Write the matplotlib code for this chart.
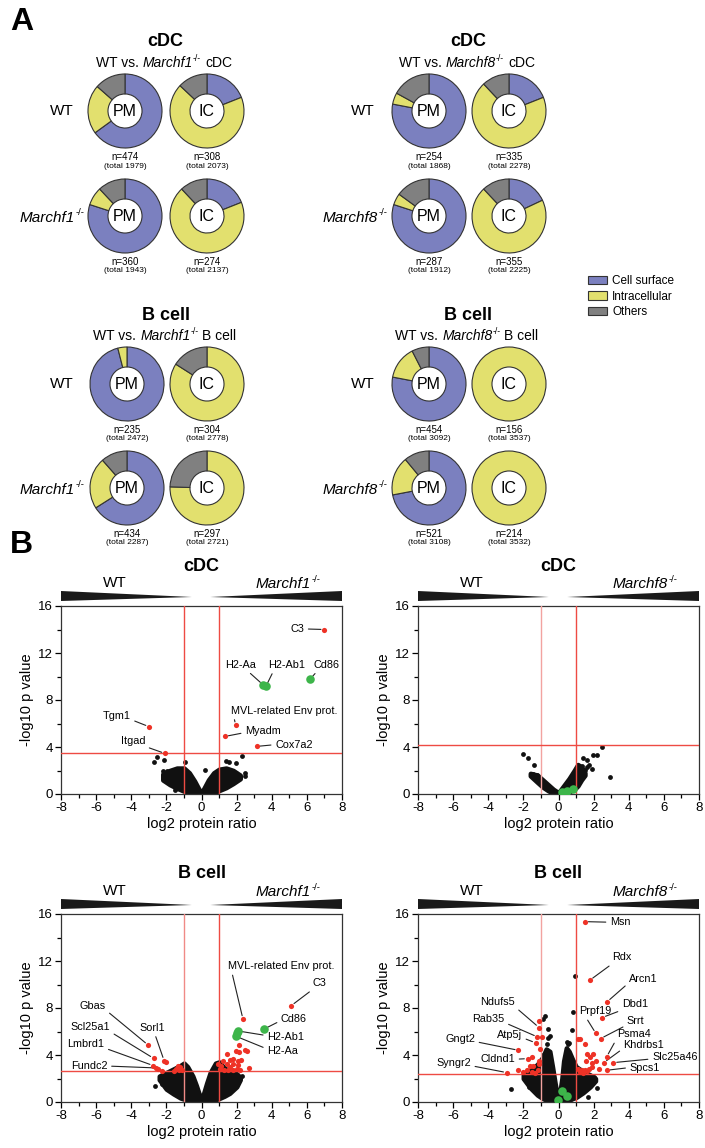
import matplotlib
matplotlib.use('Agg')
import matplotlib.pyplot as plt
from matplotlib.patches import Patch
from matplotlib.ticker import MultipleLocator

plt.rcParams['font.family'] = ['Liberation Sans', 'DejaVu Sans']
plt.rcParams['axes.unicode_minus'] = False

W, H = 705, 1148

# ---------------- data: panel A (donuts) ----------------
loc_names = ['Cell surface', 'Intracellular', 'Others']
loc_colors = ['#7b80bf', '#e2e06e', '#808080']

# fractions [surface, intracellular, others]: WT PM, WT IC, KO PM, KO IC
cdc_m1_frac = [[0.65, 0.215, 0.135], [0.19, 0.68, 0.13], [0.80, 0.08, 0.12], [0.19, 0.69, 0.12]]
cdc_m8_frac = [[0.78, 0.05, 0.17], [0.19, 0.69, 0.12], [0.80, 0.05, 0.15], [0.18, 0.70, 0.12]]
b_m1_frac = [[0.96, 0.04, 0.0], [0.0, 0.84, 0.16], [0.66, 0.225, 0.115], [0.0, 0.755, 0.245]]
b_m8_frac = [[0.78, 0.145, 0.075], [0.0, 1.0, 0.0], [0.72, 0.17, 0.11], [0.0, 1.0, 0.0]]

cdc_m1_n = [(474, 1979), (308, 2073), (360, 1943), (274, 2137)]
cdc_m8_n = [(254, 1868), (335, 2278), (287, 1912), (355, 2225)]
b_m1_n = [(235, 2472), (304, 2778), (434, 2287), (297, 2721)]
b_m8_n = [(454, 3092), (156, 3537), (521, 3108), (214, 3532)]

# ---------------- data: panel B (volcano) ----------------
# cDC, Marchf1
cm1_cloud_x = [-2.2, -1.8, -1.4, -1.0, -0.7, -0.4, -0.15, 0, 0.15, 0.4, 0.7, 1.0, 1.4, 1.8, 2.2]
cm1_cloud_hi = [1.7, 2.0, 2.2, 2.2, 1.8, 1.1, 0.4, 0.1, 0.5, 1.2, 1.8, 2.1, 2.2, 2.0, 1.6]
cm1_cloud_lo = [1.2, 0.8, 0.5, 0.25, 0.12, 0.04, 0.01, 0, 0.01, 0.04, 0.12, 0.3, 0.55, 0.9, 1.3]
cm1_black_x = [-2.56, -2.71, -2.12, -0.95, -1.99, -2.18, -1.52, 0.19, 1.42, 1.55, 1.99, 2.31, 2.46, 2.50, 1.97, 1.67]
cm1_black_y = [3.19, 2.76, 2.93, 2.76, 1.99, 1.99, 0.37, 2.05, 2.85, 2.76, 2.65, 3.27, 1.79, 1.51, 1.79, 1.28]
cm1_red_x = [7.0, 1.95, 1.34, 3.14, -2.99, -2.08]
cm1_red_y = [14.0, 5.85, 4.9, 4.05, 5.73, 3.45]
cm1_green_x = [3.5, 3.68, 6.2]
cm1_green_y = [9.3, 9.2, 9.8]
cm1_cut = 3.45
cm1_genes = [('C3', 7.0, 14.0), ('H2-Aa', 3.5, 9.3), ('H2-Ab1', 3.68, 9.2), ('Cd86', 6.2, 9.8),
             ('MVL-related Env prot.', 1.95, 5.85), ('Myadm', 1.34, 4.9), ('Cox7a2', 3.14, 4.05),
             ('Tgm1', -2.99, 5.73), ('Itgad', -2.08, 3.45)]

# cDC, Marchf8
cm8_cloud_x = [-1.6, -1.2, -0.9, -0.6, -0.3, 0, 0.3, 0.6, 0.9, 1.1, 1.3, 1.5]
cm8_cloud_hi = [1.75, 1.6, 1.2, 0.8, 0.4, 0.1, 0.7, 1.3, 2.0, 2.5, 2.3, 1.8]
cm8_cloud_lo = [1.55, 1.0, 0.6, 0.3, 0.05, 0, 0.05, 0.2, 0.4, 0.7, 1.2, 1.6]
cm8_black_x = [-2.04, -1.75, -1.37, -1.47, -1.24, 1.41, 1.60, 1.73, 1.64, 1.88, 1.94, 2.17, 2.49, 2.93, 1.32, 1.51]
cm8_black_y = [3.37, 3.06, 2.49, 1.70, 1.64, 3.06, 2.89, 2.46, 2.27, 2.12, 3.34, 3.34, 4.02, 1.42, 2.41, 2.04]
cm8_red_x = []
cm8_red_y = []
cm8_green_x = [0.18, 0.50, 0.81]
cm8_green_y = [0.2, 0.23, 0.42]
cm8_cut = 4.19
cm8_genes = []

# B cell, Marchf1
bm1_cloud_x = [-2.4, -2.0, -1.6, -1.2, -1.0, -0.8, -0.5, -0.3, -0.1, 0, 0.1, 0.3, 0.5, 0.8, 1.0, 1.3, 1.6, 2.0, 2.2]
bm1_cloud_hi = [2.2, 2.5, 2.8, 3.1, 3.3, 3.0, 2.2, 1.4, 0.5, 0.1, 0.6, 1.6, 2.5, 3.3, 3.4, 2.9, 2.6, 2.4, 2.1]
bm1_cloud_lo = [1.9, 1.1, 0.7, 0.35, 0.25, 0.15, 0.05, 0.02, 0, 0, 0, 0.02, 0.05, 0.2, 0.3, 0.5, 0.75, 1.3, 1.9]
bm1_black_x = [-2.63, -2.25, 1.82, -2.16, 2.04, -1.85, 2.3]
bm1_black_y = [1.34, 1.56, 1.71, 1.90, 1.71, 1.3, 2.2]
bm1_red_x = [5.11, 2.36, -3.04, -2.73, -2.75, -2.13, -2.6,
             2.12, 1.44, 1.95, 2.16, 2.48, 2.61, 1.63, 1.82, 2.06, 2.23, 0.96, 1.21, 1.44, 1.63, 1.82, 2.10,
             2.72, 1.06, 1.29, 1.53, 1.82, 2.04, 2.19, 1.10,
             -2.0, -2.5, -2.25, -1.59, -1.34, -1.21, -1.30, -1.12, -1.46]
bm1_red_y = [8.2, 7.06, 4.85, 3.72, 3.1, 3.52, 2.9,
             4.83, 4.06, 4.32, 4.29, 4.46, 4.32, 3.61, 3.69, 3.50, 3.61, 3.27, 3.50, 3.27, 2.98, 3.27, 3.13,
             2.93, 2.84, 2.70, 2.70, 2.70, 2.84, 2.70, 3.04,
             3.38, 2.84, 2.61, 2.64, 3.04, 2.98, 2.70, 2.76, 2.84]
bm1_green_x = [3.55, 2.1, 1.95, 2.02]
bm1_green_y = [6.2, 6.04, 5.6, 5.85]
bm1_cut = 2.62
bm1_genes = [('C3', 5.11, 8.2), ('MVL-related Env prot.', 2.36, 7.06), ('Cd86', 3.55, 6.2),
             ('H2-Ab1', 2.1, 6.04), ('H2-Aa', 1.95, 5.6), ('Gbas', -3.04, 4.85),
             ('Scl25a1', -2.73, 3.72), ('Lmbrd1', -2.75, 3.1), ('Sorl1', -2.13, 3.52), ('Fundc2', -2.6, 2.9)]

# B cell, Marchf8
bm8_cloud_x = [-2.0, -1.6, -1.2, -0.9, -0.7, -0.5, -0.35, -0.2, -0.08, 0, 0.08, 0.2, 0.3, 0.45, 0.6, 0.8, 1.0, 1.4, 1.8, 2.1]
bm8_cloud_hi = [2.3, 2.7, 3.2, 3.8, 4.5, 4.3, 3.0, 1.6, 0.6, 0.1, 0.8, 2.0, 3.5, 4.6, 4.3, 3.6, 3.0, 2.6, 2.3, 2.0]
bm8_cloud_lo = [2.0, 1.2, 0.6, 0.3, 0.18, 0.08, 0.03, 0.01, 0, 0, 0, 0.01, 0.03, 0.08, 0.15, 0.3, 0.4, 0.8, 1.3, 1.8]
bm8_black_x = [0.94, 0.80, 0.79, -0.77, -0.86, -0.58, -0.48, -0.61, -0.67, 0.46, 0.56, -2.7, -1.7, 2.2, 1.7, 2.0, -0.9, 0.6]
bm8_black_y = [10.71, 7.62, 6.11, 7.33, 7.1, 6.25, 5.63, 5.46, 4.97, 5.1, 4.97, 1.1, 1.3, 1.2, 0.4, 2.1, 4.0, 5.0]
bm8_red_x = [1.51, 1.79, 2.77, 2.49, 2.13, 2.4, 2.74, 2.58, 3.12, 2.74,
             -1.11, -1.2, -1.3, -2.28, -1.75, -2.94,
             -1.11, -0.96, -1.03, -1.52, -1.13, -1.13, -1.45, -1.62, -2.28, -2.0, -1.81, -1.52, -1.33, -1.15,
             1.09, 1.51, 1.64, 1.98, 1.79, 1.54, 1.88, 2.11, 2.32, 1.13, 1.32, 1.51, 1.75, 1.88, 1.22, 1.41, 1.64, 1.25]
bm8_red_y = [15.35, 10.37, 8.53, 7.19, 5.83, 5.4, 3.84, 3.35, 3.35, 2.7,
             6.34, 5.54, 5.03, 4.4, 3.69, 2.5,
             6.91, 5.54, 4.55, 3.84, 3.50, 3.27, 3.07, 3.04, 2.70, 2.56, 2.70, 2.56, 2.47, 2.70,
             5.40, 4.92, 4.12, 4.06, 3.84, 3.50, 3.35, 3.50, 2.84, 2.84, 2.70, 2.70, 2.84, 2.98, 2.56, 2.47, 2.64, 5.4]
bm8_green_x = [0.22, 0.46, -0.05]
bm8_green_y = [0.94, 0.48, 0.14]
bm8_cut = 2.42
bm8_genes = [('Msn', 1.51, 15.35), ('Rdx', 1.79, 10.37), ('Arcn1', 2.77, 8.53), ('Dbd1', 2.49, 7.19),
             ('Prpf19', 2.13, 5.83), ('Srrt', 2.4, 5.4), ('Psma4', 2.74, 3.84), ('Khdrbs1', 2.58, 3.35),
             ('Slc25a46', 3.12, 3.35), ('Spcs1', 2.74, 2.7), ('Ndufs5', -1.11, 6.34), ('Rab35', -1.2, 5.54),
             ('Atp5j', -1.3, 5.03), ('Gngt2', -2.28, 4.4), ('Cldnd1', -1.75, 3.69), ('Syngr2', -2.94, 2.5)]

# label placement (text x, text y, ha, line start relpos)
cm1_lab = [(5.85, 14.05, 'right', (1, 0.5)), (2.2, 11.0, 'center', (0.7, 0)), (4.87, 11.0, 'center', (0.15, 0)),
           (7.1, 11.0, 'center', (0.2, 0)), (1.7, 7.1, 'left', (0.02, 0)), (2.48, 5.4, 'left', (0, 0.3)),
           (4.19, 4.2, 'left', (0, 0.5)), (-4.83, 6.6, 'center', (1, 0.2)), (-3.9, 4.47, 'center', (1, 0))]
bm1_lab = [(6.73, 10.1, 'center', (0.1, 0)), (1.53, 11.57, 'left', (0.03, 0)), (5.26, 7.1, 'center', (0, 0.3)),
           (3.74, 5.56, 'left', (0, 0.6)), (3.74, 4.34, 'left', (0, 0.7)), (-6.2, 8.17, 'center', (1, 0.1)),
           (-6.33, 6.41, 'center', (1, 0)), (-6.58, 4.94, 'center', (1, 0.1)), (-2.83, 6.33, 'center', (0.6, 0)),
           (-6.39, 3.06, 'center', (1, 0.5))]
bm8_lab = [(2.93, 15.3, 'left', (0, 0.5)), (3.6, 12.3, 'center', (0.1, 0)), (4.83, 10.5, 'center', (0, 0.1)),
           (4.35, 8.33, 'center', (0.1, 0)), (2.07, 7.73, 'center', (0.2, 0)), (4.4, 6.9, 'center', (0, 0.1)),
           (4.29, 5.77, 'center', (0, 0.1)), (4.86, 4.83, 'center', (0, 0.2)), (6.62, 3.84, 'center', (0, 0.3)),
           (4.91, 2.93, 'center', (0, 0.5)), (-3.47, 8.53, 'center', (1, 0)), (-3.99, 7.1, 'center', (1, 0.1)),
           (-2.79, 5.74, 'center', (1, 0.2)), (-5.6, 5.4, 'center', (1, 0.2)), (-3.46, 3.64, 'center', (1, 0.5)),
           (-5.97, 3.35, 'center', (1, 0.2))]


def rect(x0, y0, x1, y1):
    return [x0 / W, 1 - y1 / H, (x1 - x0) / W, (y1 - y0) / H]


def ftext(x, y, s, **kw):
    fig.text(x / W, 1 - y / H, s, **kw)


fig = plt.figure(figsize=(W / 100, H / 100), dpi=100)
renderer = fig.canvas.get_renderer()


def rich(x, y, segs, ha='center', fontsize=11):
    # segs: (text, kind) with kind n = normal, i = italic, s = superscript, g = space
    em = fontsize * 100 / 72
    base = y + 0.36 * em
    items = []
    for s, kind in segs:
        if kind == 'g':
            items.append((None, 0.278 * em, 0))
            continue
        fs = fontsize * 0.62 if kind == 's' else fontsize
        t = fig.text(0, 0, s, fontsize=fs, va='baseline', ha='left',
                     style='italic' if kind == 'i' else 'normal')
        w = t.get_window_extent(renderer).width
        items.append((t, w, 0.42 * em if kind == 's' else 0))
    total = sum(w for _, w, _ in items)
    cur = x - total / 2 if ha == 'center' else (x - total if ha == 'right' else x)
    for t, w, rise in items:
        if t is not None:
            t.set_position((cur / W, 1 - (base - rise) / H))
        cur += w


def ko_segs(gene):
    return [(gene, 'i'), ('-/-', 's')]


def donut(cx, cy, fracs, tag, n, total):
    s = 37 * 1.08
    ax = fig.add_axes(rect(cx - s, cy - s, cx + s, cy + s))
    vals = [f for f in fracs if f > 0]
    cols = [c for f, c in zip(fracs, loc_colors) if f > 0]
    ax.pie(vals, colors=cols, startangle=90, counterclock=False,
           wedgeprops=dict(width=0.54, edgecolor='#333333', linewidth=0.8))
    ax.set_xlim(-1.08, 1.08)
    ax.set_ylim(-1.08, 1.08)
    ax.text(0, -0.02, tag, ha='center', va='center', fontsize=11.5)
    ftext(cx, cy + 46, f'n={n}', ha='center', va='center', fontsize=7)
    ftext(cx, cy + 55, f'(total {total})', ha='center', va='center', fontsize=6)


def donut_group(xs, ys, fracs, counts, title, gene, cell, lab_x, ko_x):
    tx = (xs[0] + xs[1]) / 2 - 2
    ftext(tx + 1, ys[0] - 69, title, ha='center', va='center', fontsize=13, fontweight='bold')
    rich(tx, ys[0] - 49, [('WT vs.', 'n'), (' ', 'g')] + ko_segs(gene) + [(' ', 'g'), (cell, 'n')],
         ha='center', fontsize=10)
    ftext(lab_x, ys[0], 'WT', ha='center', va='center', fontsize=11)
    rich(ko_x, ys[1], ko_segs(gene), ha='right', fontsize=11)
    k = 0
    for cy in ys:
        for cx, tag in zip(xs, ['PM', 'IC']):
            donut(cx, cy, fracs[k], tag, counts[k][0], counts[k][1])
            k += 1


ftext(10, 22, 'A', ha='left', va='center', fontsize=23, fontweight='bold')
donut_group([125, 207], [111, 216], cdc_m1_frac, cdc_m1_n, 'cDC', 'Marchf1', 'cDC', 62, 84)
donut_group([429, 509], [111, 216], cdc_m8_frac, cdc_m8_n, 'cDC', 'Marchf8', 'cDC', 363, 387)
donut_group([127, 207], [384, 488], b_m1_frac, b_m1_n, 'B cell', 'Marchf1', 'B cell', 62, 84)
donut_group([429, 509], [384, 488], b_m8_frac, b_m8_n, 'B cell', 'Marchf8', 'B cell', 363, 387)

handles = [Patch(facecolor=c, edgecolor='#333333', linewidth=0.8, label=n) for n, c in zip(loc_names, loc_colors)]
fig.legend(handles=handles, loc='upper left', bbox_to_anchor=(588 / W, 1 - 275 / H), frameon=False,
           fontsize=8.5, handlelength=1.6, handleheight=0.75, handletextpad=0.45, labelspacing=0.3,
           borderpad=0, borderaxespad=0)

ftext(10, 545, 'B', ha='left', va='center', fontsize=23, fontweight='bold')


def volcano(x0, y0, title, gene, cx, lo, hi, bx, by, rx, ry, gx, gy, cut, genes, lab, left_line):
    x1, y1 = x0 + 281, y0 + 188
    # WT / KO wedge bar
    wax = fig.add_axes(rect(x0, y0 - 15, x1, y0 - 5))
    wax.fill([-8, -0.55, -8], [0, 0.4, 1], color='#1a1a1a', lw=0)
    wax.fill([8, 0.5, 8], [0, 0.4, 1], color='#1a1a1a', lw=0)
    wax.set_xlim(-8, 8)
    wax.set_ylim(0, 1)
    wax.axis('off')
    ftext((x0 + x1) / 2, y0 - 40, title, ha='center', va='center', fontsize=13, fontweight='bold')
    ftext(x0 + 54, y0 - 23, 'WT', ha='center', va='center', fontsize=11)
    rich(x0 + 227, y0 - 23, ko_segs(gene), ha='center', fontsize=11)

    ax = fig.add_axes(rect(x0, y0, x1, y1))
    ax.fill_between(cx, lo, hi, facecolor='#111111', edgecolor='#111111', linewidth=3.4, zorder=2)
    ax.scatter(bx, by, s=12, c='#111111', linewidths=0, zorder=2)
    ax.axvline(-1, color=left_line, lw=1.0, zorder=3)
    ax.axvline(1, color='#ee4b43', lw=1.0, zorder=3)
    ax.axhline(cut, color='#ee4b43', lw=1.0, zorder=3)
    if rx:
        ax.scatter(rx, ry, s=14, c='#ee3226', linewidths=0, zorder=4)
    ax.scatter(gx, gy, s=38, c='#3db54a', linewidths=0, zorder=5)
    for (name, px, py), (tx, ty, ha, rp) in zip(genes, lab):
        ax.annotate(name, xy=(px, py), xytext=(tx, ty), ha=ha, va='center', fontsize=7.8,
                    arrowprops=dict(arrowstyle='-', color='#222222', lw=0.8, relpos=rp,
                                    shrinkA=1, shrinkB=2.5))
    ax.set_xlim(-8, 8)
    ax.set_ylim(0, 16)
    ax.set_xticks(range(-8, 9, 2))
    ax.set_yticks(range(0, 17, 4))
    ax.xaxis.set_minor_locator(MultipleLocator(1))
    ax.yaxis.set_minor_locator(MultipleLocator(2))
    ax.tick_params(which='major', direction='out', length=4, width=0.9, labelsize=9.5, pad=2)
    ax.tick_params(which='minor', direction='out', length=3, width=0.9)
    for sp in ax.spines.values():
        sp.set_linewidth(0.9)
        sp.set_color('#333333')
    ax.set_xlabel('log2 protein ratio', fontsize=10.5, labelpad=2)
    ax.set_ylabel('-log10 p value', fontsize=10.5, labelpad=3)


volcano(61, 606, 'cDC', 'Marchf1', cm1_cloud_x, cm1_cloud_lo, cm1_cloud_hi, cm1_black_x, cm1_black_y,
        cm1_red_x, cm1_red_y, cm1_green_x, cm1_green_y, cm1_cut, cm1_genes, cm1_lab, '#ee4b43')
volcano(418, 606, 'cDC', 'Marchf8', cm8_cloud_x, cm8_cloud_lo, cm8_cloud_hi, cm8_black_x, cm8_black_y,
        cm8_red_x, cm8_red_y, cm8_green_x, cm8_green_y, cm8_cut, cm8_genes, [], '#f2a3a0')
volcano(61, 914, 'B cell', 'Marchf1', bm1_cloud_x, bm1_cloud_lo, bm1_cloud_hi, bm1_black_x, bm1_black_y,
        bm1_red_x, bm1_red_y, bm1_green_x, bm1_green_y, bm1_cut, bm1_genes, bm1_lab, '#f08a86')
volcano(418, 914, 'B cell', 'Marchf8', bm8_cloud_x, bm8_cloud_lo, bm8_cloud_hi, bm8_black_x, bm8_black_y,
        bm8_red_x, bm8_red_y, bm8_green_x, bm8_green_y, bm8_cut, bm8_genes, bm8_lab, '#f2a3a0')

fig.savefig('out.png', dpi=100)
